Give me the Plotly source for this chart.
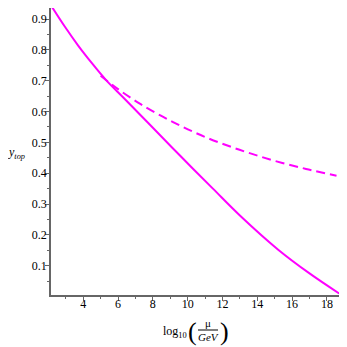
import plotly.graph_objects as go

# solid curve
x_solid = [2.2, 2.95, 3.7, 4.5, 5.3, 6.4, 7.82, 9.6, 11.45, 13.0, 15.2, 17.0, 18.7]
y_solid = [0.94, 0.875, 0.815, 0.757, 0.703, 0.640, 0.558, 0.455, 0.350, 0.263, 0.152, 0.075, 0.01]

# dashed curve
x_dash = [5.0, 5.9, 7.3, 9.16, 11.07, 12.98, 14.89, 16.8, 18.55]
y_dash = [0.716, 0.677, 0.624, 0.566, 0.516, 0.476, 0.442, 0.414, 0.392]

x_ticks = [4, 6, 8, 10, 12, 14, 16, 18]
y_ticks = [0.1, 0.2, 0.3, 0.4, 0.5, 0.6, 0.7, 0.8, 0.9]

magenta = '#FF00FF'
serif = 'Liberation Serif, Times New Roman, serif'

fig = go.Figure()
fig.add_trace(go.Scatter(
    x=x_solid, y=y_solid, mode='lines',
    line=dict(color=magenta, width=2, shape='spline', smoothing=1.0),
    showlegend=False
))
fig.add_trace(go.Scatter(
    x=x_dash, y=y_dash, mode='lines',
    line=dict(color=magenta, width=2, shape='spline', smoothing=1.0, dash='9px,5px'),
    showlegend=False
))

axis_common = dict(
    showgrid=False, zeroline=False, showline=True,
    linecolor='#666666', linewidth=1.5,
    ticks='outside', ticklen=4, tickwidth=1, tickcolor='#666666',
    tickfont=dict(family=serif, size=12, color='black'),
)

# the page body adds an 8px offset, so the figure is a bit smaller than the window
fig.update_layout(
    width=339, height=339,
    margin=dict(l=43, r=7, t=0, b=52, autoexpand=False),
    paper_bgcolor='white', plot_bgcolor='white',
    xaxis=dict(range=[2.15, 18.75], tickvals=x_ticks, ticklabelstandoff=-7,
               minor=dict(dtick=1, ticks='outside', ticklen=2, tickcolor='#666666'),
               **axis_common),
    yaxis=dict(range=[0.005, 0.936], tickvals=y_ticks, tickformat='.1f', ticklabelstandoff=-4,
               minor=dict(dtick=0.05, ticks='outside', ticklen=2, tickcolor='#666666'),
               **axis_common),
)

# axis titles built from annotations; positions given in window pixels
def px_x(p):
    return (p - 51) / 289.0

def px_y(p):
    return (295 - p) / 287.0

def label(x, y, text, size=12):
    fig.add_annotation(x=px_x(x), y=px_y(y), xref='paper', yref='paper',
                       xanchor='center', yanchor='middle',
                       text=text, showarrow=False,
                       font=dict(family=serif, size=size, color='black'))

label(16, 153, '<i>y</i><sub><i>top</i></sub>')
label(175, 332, 'log<sub>10</sub>')
label(192, 331, '(', 26)
label(224, 331, ')', 26)
label(208, 323, '\u03bc', 11)
label(208, 337, '<i>GeV</i>', 11)
fig.add_shape(type='line', xref='paper', yref='paper',
              x0=px_x(198), x1=px_x(218), y0=px_y(330), y1=px_y(330),
              line=dict(color='black', width=1))

fig.write_html("out.html")
